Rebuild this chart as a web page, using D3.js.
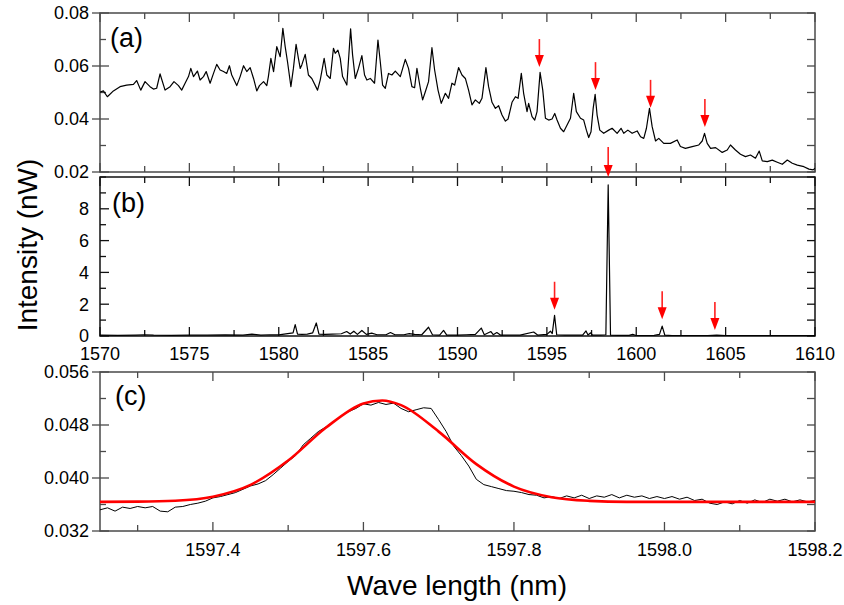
<!DOCTYPE html>
<html><head><meta charset="utf-8">
<script src="https://cdn.jsdelivr.net/npm/d3@7"></script>
<style>body{margin:0;background:#fff}svg{display:block}text{font-family:"Liberation Sans",Arial,sans-serif}</style>
</head><body>
<svg id="chart" width="844" height="605"></svg>
<script>
// ---------- Data ----------
// Panel (a): wide spectrum (nm, nW)
const aWave = [1570.00,1570.19,1570.41,1570.75,1571.12,1571.49,1571.87,1572.05,1572.28,1572.52,1572.80,1572.99,1573.17,1573.36,1573.64,1573.92,1574.14,1574.39,1574.57,1574.76,1574.95,1575.08,1575.23,1575.45,1575.60,1575.79,1575.94,1576.16,1576.35,1576.53,1576.72,1576.91,1577.09,1577.24,1577.37,1577.65,1577.84,1578.03,1578.21,1578.40,1578.59,1578.77,1578.92,1579.15,1579.33,1579.42,1579.56,1579.71,1579.89,1580.08,1580.23,1580.36,1580.49,1580.68,1580.82,1580.97,1581.10,1581.20,1581.29,1581.48,1581.66,1581.85,1582.17,1582.32,1582.54,1582.69,1582.88,1583.06,1583.16,1583.31,1583.44,1583.57,1583.81,1584.02,1584.13,1584.28,1584.46,1584.65,1584.80,1584.93,1585.12,1585.36,1585.55,1585.68,1585.81,1585.96,1586.14,1586.33,1586.52,1586.80,1587.08,1587.26,1587.45,1587.60,1587.73,1587.92,1588.05,1588.20,1588.38,1588.57,1588.72,1588.91,1589.09,1589.32,1589.50,1589.69,1589.84,1590.06,1590.25,1590.44,1590.62,1590.81,1591.00,1591.22,1591.37,1591.59,1591.74,1591.93,1592.12,1592.30,1592.49,1592.68,1592.83,1593.05,1593.24,1593.39,1593.57,1593.70,1593.89,1593.98,1594.17,1594.32,1594.45,1594.62,1594.77,1594.92,1595.10,1595.29,1595.44,1595.57,1595.76,1595.94,1596.13,1596.32,1596.50,1596.65,1596.88,1597.06,1597.21,1597.34,1597.47,1597.59,1597.70,1597.81,1597.96,1598.18,1598.46,1598.65,1598.93,1599.15,1599.30,1599.53,1599.77,1600.05,1600.24,1600.42,1600.57,1600.74,1600.89,1601.08,1601.26,1601.54,1601.91,1602.29,1602.47,1602.75,1603.13,1603.50,1603.69,1603.82,1603.97,1604.16,1604.44,1604.81,1605.09,1605.27,1605.55,1605.83,1606.11,1606.39,1606.67,1606.88,1607.05,1607.33,1607.61,1607.89,1608.17,1608.45,1608.73,1609.01,1609.38,1609.66,1609.90,1610.00];
const aInt = [0.0501,0.0506,0.0484,0.0506,0.0522,0.0528,0.0531,0.0545,0.0509,0.0541,0.0522,0.0513,0.0516,0.0570,0.0509,0.0522,0.0541,0.0526,0.0509,0.0535,0.0560,0.0591,0.0560,0.0581,0.0547,0.0560,0.0579,0.0535,0.0572,0.0606,0.0585,0.0579,0.0572,0.0601,0.0566,0.0526,0.0560,0.0601,0.0579,0.0594,0.0553,0.0506,0.0526,0.0541,0.0526,0.0560,0.0629,0.0579,0.0673,0.0635,0.0742,0.0673,0.0616,0.0522,0.0591,0.0682,0.0629,0.0591,0.0604,0.0644,0.0566,0.0553,0.0509,0.0547,0.0629,0.0566,0.0553,0.0667,0.0648,0.0660,0.0629,0.0560,0.0528,0.0740,0.0642,0.0553,0.0591,0.0639,0.0566,0.0547,0.0553,0.0535,0.0698,0.0616,0.0528,0.0516,0.0572,0.0566,0.0581,0.0560,0.0625,0.0591,0.0522,0.0518,0.0591,0.0516,0.0472,0.0503,0.0541,0.0669,0.0585,0.0509,0.0459,0.0497,0.0478,0.0535,0.0528,0.0594,0.0566,0.0553,0.0509,0.0453,0.0472,0.0459,0.0478,0.0594,0.0522,0.0463,0.0440,0.0450,0.0415,0.0392,0.0400,0.0463,0.0484,0.0478,0.0572,0.0497,0.0428,0.0459,0.0409,0.0396,0.0428,0.0576,0.0509,0.0403,0.0396,0.0400,0.0421,0.0396,0.0365,0.0352,0.0377,0.0403,0.0497,0.0428,0.0403,0.0396,0.0358,0.0330,0.0352,0.0440,0.0493,0.0415,0.0358,0.0346,0.0358,0.0365,0.0346,0.0365,0.0346,0.0358,0.0346,0.0355,0.0333,0.0327,0.0365,0.0440,0.0371,0.0317,0.0327,0.0308,0.0308,0.0321,0.0296,0.0289,0.0296,0.0302,0.0317,0.0346,0.0308,0.0289,0.0292,0.0274,0.0283,0.0302,0.0283,0.0267,0.0258,0.0264,0.0252,0.0279,0.0242,0.0239,0.0245,0.0237,0.0229,0.0245,0.0233,0.0226,0.0220,0.0211,0.0208,0.0214];
// arrows in panel (a): wavelength and arrow-tip intensity
const aArrowWave = [1594.58,1597.72,1600.80,1603.84];
const aArrowTip = [0.0596,0.0509,0.0442,0.0370];

// Panel (b): lasing spectrum
const bWave = [1570.0,1571.0,1572.0,1572.5,1573.0,1574.0,1575.0,1576.0,1577.0,1578.0,1578.5,1579.0,1579.5,1580.0,1580.5,1580.8,1580.92,1581.05,1581.3,1581.6,1581.9,1582.1,1582.25,1582.6,1583.0,1583.5,1583.8,1584.0,1584.2,1584.4,1584.65,1584.9,1585.2,1585.5,1586.0,1586.25,1586.5,1587.0,1587.3,1587.6,1588.0,1588.38,1588.6,1589.0,1589.22,1589.4,1590.0,1590.5,1591.0,1591.33,1591.5,1591.87,1592.0,1592.2,1592.4,1593.0,1593.5,1594.26,1594.5,1595.0,1595.2,1595.3,1595.43,1595.55,1596.0,1596.5,1597.0,1597.19,1597.3,1597.45,1597.55,1598.0,1598.3,1598.43,1598.56,1599.0,1599.6,1599.8,1600.0,1600.5,1601.0,1601.3,1601.45,1601.6,1602.0,1603.0,1604.0,1604.5,1605.0,1606.0,1607.0,1608.0,1609.0,1610.0];
const bInt = [0.05,0.04,0.06,0.08,0.05,0.04,0.06,0.05,0.07,0.06,0.12,0.06,0.08,0.07,0.15,0.2,0.72,0.12,0.1,0.12,0.2,0.82,0.12,0.1,0.12,0.14,0.28,0.12,0.3,0.1,0.35,0.1,0.18,0.08,0.08,0.22,0.08,0.08,0.15,0.1,0.08,0.55,0.08,0.06,0.35,0.06,0.05,0.08,0.1,0.5,0.08,0.28,0.08,0.22,0.06,0.05,0.06,0.25,0.05,0.1,0.3,0.15,1.3,0.08,0.05,0.05,0.06,0.32,0.06,0.2,0.05,0.05,0.08,9.5,0.06,0.04,0.04,0.1,0.03,0.03,0.04,0.1,0.62,0.05,0.03,0.03,0.03,0.06,0.03,0.02,0.02,0.02,0.02,0.02];
const bArrowWave = [1595.43,1598.43,1601.45,1604.40];
const bArrowTip = [1.65,10.0,1.06,0.38];

// Panel (c): zoom on one mode, measured (black) and fit (red)
const cWave = [1597.25,1597.26,1597.27,1597.28,1597.29,1597.30,1597.31,1597.32,1597.33,1597.34,1597.35,1597.36,1597.37,1597.38,1597.39,1597.40,1597.41,1597.42,1597.43,1597.44,1597.45,1597.46,1597.47,1597.48,1597.49,1597.50,1597.51,1597.52,1597.53,1597.54,1597.55,1597.56,1597.57,1597.58,1597.59,1597.60,1597.61,1597.62,1597.63,1597.64,1597.65,1597.66,1597.67,1597.68,1597.69,1597.70,1597.71,1597.72,1597.73,1597.74,1597.75,1597.76,1597.77,1597.78,1597.79,1597.80,1597.81,1597.82,1597.83,1597.84,1597.85,1597.86,1597.87,1597.88,1597.89,1597.90,1597.91,1597.92,1597.93,1597.94,1597.95,1597.96,1597.97,1597.98,1597.99,1598.00,1598.01,1598.02,1598.03,1598.04,1598.05,1598.06,1598.07,1598.08,1598.09,1598.10,1598.11,1598.12,1598.13,1598.14,1598.15,1598.16,1598.17,1598.18,1598.19,1598.20];
const cInt = [0.0352,0.0355,0.0350,0.0356,0.0354,0.0357,0.0355,0.0357,0.0350,0.0349,0.0356,0.0357,0.0360,0.0362,0.0365,0.0370,0.0372,0.0375,0.0378,0.0383,0.0388,0.0391,0.0396,0.0405,0.0415,0.0425,0.0434,0.0450,0.0460,0.0470,0.0477,0.0485,0.0493,0.0500,0.0505,0.0512,0.0510,0.0514,0.0511,0.0513,0.0505,0.0500,0.0503,0.0506,0.0505,0.0488,0.0470,0.0448,0.0434,0.0418,0.0398,0.0390,0.0387,0.0384,0.0381,0.0380,0.0378,0.0375,0.0374,0.0370,0.0372,0.0369,0.0373,0.0370,0.0374,0.0369,0.0373,0.0371,0.0375,0.0370,0.0374,0.0371,0.0373,0.0369,0.0372,0.0369,0.0372,0.0368,0.0371,0.0366,0.0368,0.0362,0.0360,0.0364,0.0361,0.0366,0.0362,0.0367,0.0363,0.0368,0.0365,0.0368,0.0364,0.0367,0.0364,0.0366];
const fitWave = [1597.25,1597.30,1597.35,1597.40,1597.45,1597.50,1597.55,1597.60,1597.625,1597.65,1597.70,1597.75,1597.80,1597.85,1597.90,1597.95,1598.00,1598.10,1598.20];
const fitInt = [0.0364,0.03643,0.03657,0.03718,0.03896,0.04263,0.04758,0.05126,0.0517,0.0510,0.0470,0.0421,0.0387,0.0371,0.03655,0.0364,0.0364,0.0364,0.0364];

// Tick values
const aYTicks = [0.02,0.04,0.06,0.08];
const bYTicks = [0,2,4,6,8];
const cYTicks = [0.032,0.040,0.048,0.056];
const abXTicks = [1570,1575,1580,1585,1590,1595,1600,1605,1610];
const cXTicks = [1597.4,1597.6,1597.8,1598.0,1598.2];

// ---------- Layout ----------
const svg = d3.select("#chart");
const L = 100, R = 815;
const P = {
  a: {top: 13, bottom: 172},
  b: {top: 177, bottom: 336},
  c: {top: 372, bottom: 531}
};
const xAB = d3.scaleLinear().domain([1570,1610]).range([L,R]);
const xC = d3.scaleLinear().domain([1597.25,1598.2]).range([L,R]);
const yA = d3.scaleLinear().domain([0.02,0.08]).range([P.a.bottom,P.a.top]);
const yB = d3.scaleLinear().domain([0,10]).range([P.b.bottom,P.b.top]);
const yC = d3.scaleLinear().domain([0.032,0.056]).range([P.c.bottom,P.c.top]);

const FS = 18;
const MAJ = 9, MIN = 6;

function drawPanel(id, x, y, p, opts){
  const g = svg.append("g");
  const col = opts.frameColor;
  // clip
  svg.append("clipPath").attr("id","clip-"+id).append("rect")
    .attr("x",L).attr("y",p.top).attr("width",R-L).attr("height",p.bottom-p.top);
  // x ticks (top and bottom, inward)
  const xd = x.domain();
  const xt = d3.range(Math.ceil(xd[0]/opts.xMinorStep-1e-6), Math.floor(xd[1]/opts.xMinorStep+1e-6)+1).map(k=>+(k*opts.xMinorStep).toFixed(4));
  xt.forEach(v=>{
    const isMaj = opts.xMajor.some(m=>Math.abs(m-v)<1e-6);
    const len = isMaj?MAJ:MIN;
    g.append("line").attr("x1",x(v)).attr("x2",x(v)).attr("y1",p.bottom).attr("y2",p.bottom-len).attr("stroke",col).attr("stroke-width",1.3);
    g.append("line").attr("x1",x(v)).attr("x2",x(v)).attr("y1",p.top).attr("y2",p.top+len).attr("stroke",col).attr("stroke-width",1.3);
  });
  // y ticks
  const yd = y.domain();
  const yt = d3.range(Math.round(yd[0]/opts.yMinorStep), Math.round(yd[1]/opts.yMinorStep)+1).map(k=>+(k*opts.yMinorStep).toFixed(5));
  yt.forEach(v=>{
    const isMaj = opts.yMajor.some(m=>Math.abs(m-v)<1e-7);
    g.append("line").attr("x1",L+(isMaj?-opts.yOut:0)).attr("x2",L+(isMaj?MAJ:MIN)).attr("y1",y(v)).attr("y2",y(v)).attr("stroke",col).attr("stroke-width",1.3);
    g.append("line").attr("x1",R).attr("x2",R-8).attr("y1",y(v)).attr("y2",y(v)).attr("stroke",col).attr("stroke-width",1.3);
  });
  // frame
  g.append("rect").attr("x",L).attr("y",p.top).attr("width",R-L).attr("height",p.bottom-p.top)
    .attr("fill","none").attr("stroke",col).attr("stroke-width",1.5);
  // y labels
  opts.yMajor.forEach(v=>{
    g.append("text").attr("x",L-11).attr("y",y(v)).attr("dy","0.36em").attr("text-anchor","end")
      .attr("font-size",FS).attr("fill","#000").text(opts.yFmt(v));
  });
  // x labels
  if (opts.xLabels){
    opts.xMajor.forEach(v=>{
      g.append("text").attr("x",x(v)).attr("y",opts.xLabelY).attr("text-anchor","middle")
        .attr("font-size",FS).attr("fill","#000").text(opts.xFmt(v));
    });
  }
  // panel letter
  g.append("text").attr("x",opts.letterX).attr("y",opts.letterY).attr("font-size",27).attr("fill","#000").text(opts.letter);
  return g;
}

drawPanel("a", xAB, yA, P.a, {frameColor:"#4a4a4a", xMinorStep:2.5, xMajor:abXTicks, yMinorStep:0.01, yMajor:aYTicks, yOut:8,
  yFmt:d3.format(".2f"), xLabels:false, letter:"(a)", letterX:110, letterY:47});
drawPanel("b", xAB, yB, P.b, {frameColor:"#111", xMinorStep:2.5, xMajor:abXTicks, yMinorStep:1, yMajor:bYTicks, yOut:0,
  yFmt:d3.format("d"), xLabels:true, xLabelY:360, xFmt:d3.format("d"), letter:"(b)", letterX:112, letterY:212});
drawPanel("c", xC, yC, P.c, {frameColor:"#4a4a4a", xMinorStep:0.1, xMajor:cXTicks, yMinorStep:0.004, yMajor:cYTicks, yOut:8,
  yFmt:d3.format(".3f"), xLabels:true, xLabelY:556, xFmt:d3.format(".1f"), letter:"(c)", letterX:115, letterY:405});

// ---------- Lines ----------
const lineA = d3.line().x(d=>xAB(d[0])).y(d=>yA(d[1]));
svg.append("path").attr("clip-path","url(#clip-a)").attr("d",lineA(d3.zip(aWave,aInt)))
  .attr("fill","none").attr("stroke","#000").attr("stroke-width",1.2).attr("stroke-linejoin","round");

const lineB = d3.line().x(d=>xAB(d[0])).y(d=>yB(d[1]));
svg.append("path").attr("clip-path","url(#clip-b)").attr("d",lineB(d3.zip(bWave,bInt)))
  .attr("fill","none").attr("stroke","#000").attr("stroke-width",1.2).attr("stroke-linejoin","round");

const lineC = d3.line().x(d=>xC(d[0])).y(d=>yC(d[1]));
svg.append("path").attr("clip-path","url(#clip-c)").attr("d",lineC(d3.zip(cWave,cInt)))
  .attr("fill","none").attr("stroke","#000").attr("stroke-width",1).attr("stroke-linejoin","round");
const lineFit = d3.line().curve(d3.curveMonotoneX).x(d=>xC(d[0])).y(d=>yC(d[1]));
svg.append("path").attr("clip-path","url(#clip-c)").attr("d",lineFit(d3.zip(fitWave,fitInt)))
  .attr("fill","none").attr("stroke","#ff0000").attr("stroke-width",2.6);

// ---------- Arrows ----------
function arrow(px, tipY, len){
  const headL = 12, headW = 4.5;
  svg.append("line").attr("x1",px).attr("x2",px).attr("y1",tipY-len).attr("y2",tipY-headL+1)
    .attr("stroke","#ff2020").attr("stroke-width",1.6);
  svg.append("path").attr("d",`M${px-headW},${tipY-headL}L${px+headW},${tipY-headL}L${px},${tipY}Z`).attr("fill","#ff0000");
}
aArrowWave.forEach((w,i)=>arrow(xAB(w), yA(aArrowTip[i]), 28));
bArrowWave.forEach((w,i)=>arrow(xAB(w), yB(bArrowTip[i]), i===1?30:28));

// ---------- Axis titles ----------
svg.append("text").attr("transform","translate(37,245) rotate(-90)").attr("text-anchor","middle")
  .attr("font-size",28).attr("fill","#000").text("Intensity (nW)");
svg.append("text").attr("x",457).attr("y",595).attr("text-anchor","middle")
  .attr("font-size",28).attr("fill","#000").text("Wave length (nm)");
</script>
</body></html>
